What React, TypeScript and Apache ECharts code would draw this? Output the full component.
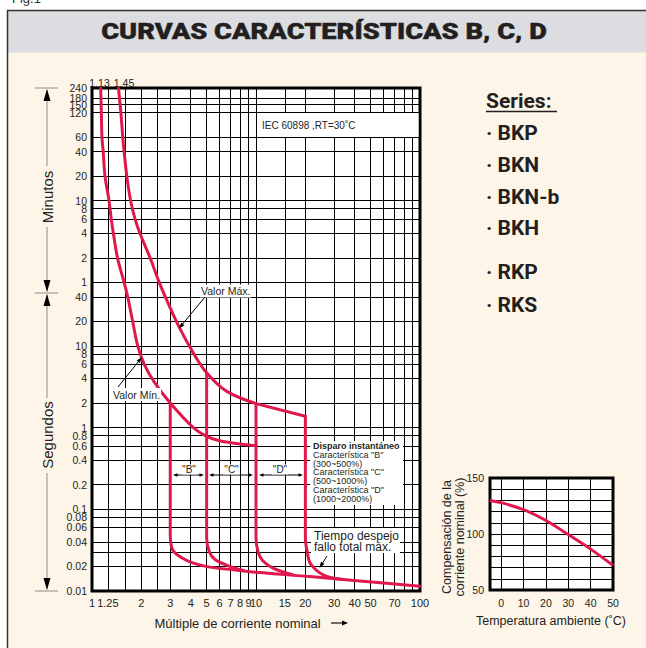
import React, { useEffect, useRef } from 'react';
import * as echarts from 'echarts';

// ---------- data ----------
const X_GRID = [1.25, 1.6, 2, 2.5, 3, 4, 5, 6, 7, 8, 9, 10, 15, 20, 30, 40, 50, 60, 70, 80, 90];
const X_LABELS = [1, 1.25, 2, 3, 4, 5, 6, 7, 8, 9, 10, 15, 20, 30, 40, 50, 70, 100];
const MINUTE_TICKS = [240, 180, 150, 120, 60, 40, 20, 10, 8, 6, 4, 2, 1];
const SECOND_TICKS = [40, 20, 10, 8, 6, 4, 2, 1, 0.8, 0.6, 0.4, 0.2, 0.1, 0.08, 0.06, 0.04, 0.02, 0.01];
const EXTRA_SECOND_GRID = [0.03];
// minute label drawn on a companion axis (too close to the 240 edge label)
const CROWDED_MINUTE_LABELS = [180];

// curves: [multiple of nominal current, time in seconds]
const MIN_CURVE: [number, number][] = [
  [1.13, 14400], [1.14, 7200], [1.15, 3600], [1.17, 2400], [1.2, 1200], [1.27, 600], [1.31, 360],
  [1.35, 240], [1.43, 120], [1.57, 60], [1.65, 40], [1.77, 20], [1.9, 10], [2.08, 6], [2.4, 3.6],
  [3, 2.0], [4.15, 1.0], [5, 0.78], [6, 0.69], [8, 0.63], [10, 0.6],
];
const MAX_CURVE: [number, number][] = [
  [1.45, 14400], [1.5, 7200], [1.54, 3600], [1.57, 2400], [1.63, 1200], [1.72, 600], [1.83, 360],
  [1.96, 240], [2.26, 120], [2.57, 60], [2.8, 40], [3.4, 17], [4.15, 8.2], [5, 4.7], [6.6, 2.8], [10, 1.97],
];
const MAX_TAIL: [number, number][] = [[10, 1.97], [20, 1.38]];
const B_BRANCH: [number, number][] = [
  [3, 2.0], [3, 0.3], [3, 0.1], [3, 0.05], [3.1, 0.032], [3.55, 0.0253], [4.15, 0.0219],
  [5.25, 0.0196], [10.6, 0.0168], [21.3, 0.015], [43, 0.0133], [100, 0.0114],
];
const C_BRANCH: [number, number][] = [
  [5, 4.7], [5, 0.3], [5, 0.1], [5, 0.045], [5.2, 0.03], [5.6, 0.0245], [6.6, 0.0208], [8.4, 0.0178],
];
const D_BRANCH: [number, number][] = [
  [10, 1.97], [10, 0.3], [10, 0.1], [10, 0.045], [10.3, 0.03], [11, 0.0235], [12.7, 0.0191], [16.9, 0.0157],
];
const E_BRANCH: [number, number][] = [
  [20, 1.38], [20, 0.3], [20, 0.1], [20, 0.045], [20.6, 0.029], [21.5, 0.0215], [25.7, 0.0158], [34, 0.0138],
];

const TEMP_X = [-5, 0, 10, 20, 30, 40, 50];
const COMP_Y = [130, 128, 121.7, 112, 99.5, 86.5, 72];
const TEMP_LABELS = [0, 10, 20, 30, 40, 50];
const COMP_LABELS = [50, 100, 150];

const SERIES_NAMES = ['BKP', 'BKN', 'BKN-b', 'BKH', 'RKP', 'RKS'];

// ---------- style ----------
const RED = '#e0194c';
const INK = '#231f20';
const SANS = "'Liberation Sans', Arial, Helvetica, sans-serif";
const CREAM = '#fdf5e8';

function arrowHead(tx: number, ty: number, fx: number, fy: number, len: number, half: number, z = 20) {
  const dx = tx - fx, dy = ty - fy;
  const d = Math.hypot(dx, dy);
  const ux = dx / d, uy = dy / d;
  const bx = tx - ux * len, by = ty - uy * len;
  return {
    type: 'polygon', z, silent: true,
    shape: { points: [[tx, ty], [bx - uy * half, by + ux * half], [bx + uy * half, by - ux * half]] },
    style: { fill: '#000' },
  };
}
function seg(x1: number, y1: number, x2: number, y2: number, stroke = '#000', lw = 1, z = 20) {
  return { type: 'line', z, silent: true, shape: { x1, y1, x2, y2 }, style: { stroke, lineWidth: lw } };
}
function txt(text: string, x: number, y: number, font: string, opts: any = {}, z = 20) {
  return {
    type: 'text', z, silent: true, x, y, rotation: opts.rotation || 0, scaleX: opts.scaleX || 1,
    style: {
      text, font, fill: opts.fill || INK,
      align: opts.align || 'left', verticalAlign: opts.verticalAlign || 'middle',
      lineHeight: opts.lineHeight, backgroundColor: opts.bg, padding: opts.padding,
      stroke: opts.stroke, lineWidth: opts.lineWidth,
    },
  };
}
function box(x: number, y: number, w: number, h: number, z = 15) {
  return { type: 'rect', z, silent: true, shape: { x, y, width: w, height: h }, style: { fill: '#fff' } };
}

function lineSeries(data: [number, number][], smooth: number | boolean) {
  return {
    type: 'line', data, smooth, symbol: 'none', xAxisIndex: 0, yAxisIndex: 0, z: 5,
    lineStyle: { color: RED, width: 3, cap: 'round', join: 'round' }, silent: true,
  };
}

export default function App() {
  const ref = useRef<HTMLDivElement>(null);
  useEffect(() => {
    if (!ref.current) return;
    const chart = echarts.init(ref.current, undefined, { renderer: 'svg' });
    const mainMinuteLabels = MINUTE_TICKS.filter((m) => !CROWDED_MINUTE_LABELS.includes(m));
    const yLabelValues = [...mainMinuteLabels.map((m) => m * 60), ...SECOND_TICKS];
    const yGridValues = [...MINUTE_TICKS.map((m) => m * 60), ...SECOND_TICKS, ...EXTRA_SECOND_GRID];
    const yFmt = (v: number) => (v >= 59.99 ? String(Math.round(v / 60)) : String(+Number(v).toPrecision(4)));

    const graphics: any[] = [];
    // page frame
    graphics.push({ type: 'rect', z: 1, silent: true, shape: { x: 0, y: 0, width: 646, height: 10 }, style: { fill: '#fff' } });
    graphics.push({ type: 'rect', z: 1, silent: true, shape: { x: 0, y: 0, width: 7, height: 648 }, style: { fill: '#fff' } });
    graphics.push({ type: 'rect', z: 1, silent: true, shape: { x: 7.5, y: 10.5, width: 640, height: 42 }, style: { fill: '#dcdde0' } });
    graphics.push({ type: 'polyline', z: 2, silent: true, shape: { points: [[7.5, 648], [7.5, 10.5], [646, 10.5]] }, style: { stroke: '#333', lineWidth: 1.5, fill: null } });
    graphics.push(txt('Fig.1', 12, 5, `13px ${SANS}`, { verticalAlign: 'bottom', fill: '#333' }));
    graphics.push(txt('CURVAS CARACTERÍSTICAS B, C, D', 324, 31.5, `900 22px Roboto, ${SANS}`, { align: 'center', scaleX: 1.24, stroke: INK, lineWidth: 0.4 }));

    // top labels of the curves
    graphics.push(txt('1.13', 99.5, 82.5, `10.5px ${SANS}`, { align: 'center' }));
    graphics.push(txt('1.45', 124, 82.5, `10.5px ${SANS}`, { align: 'center' }));

    // Minutos / Segundos brackets
    const G = '#8c8c8c';
    graphics.push(seg(35, 88, 58, 88, G));
    graphics.push(seg(35, 293, 58, 293, G));
    graphics.push(seg(35, 591, 58, 591, G));
    graphics.push(seg(47, 90, 47, 166, G));
    graphics.push(seg(47, 227, 47, 291, G));
    graphics.push(seg(47, 295, 47, 398, G));
    graphics.push(seg(47, 473, 47, 589, G));
    graphics.push(arrowHead(47, 89, 47, 120, 12, 3.5));
    graphics.push(arrowHead(47, 292, 47, 250, 12, 3.5));
    graphics.push(arrowHead(47, 294, 47, 330, 12, 3.5));
    graphics.push(arrowHead(47, 590, 47, 550, 12, 3.5));
    graphics.push(txt('Minutos', 47, 197, `15px ${SANS}`, { align: 'center', rotation: Math.PI / 2 }));
    graphics.push(txt('Segundos', 47, 435, `15px ${SANS}`, { align: 'center', rotation: Math.PI / 2 }));

    // IEC box
    graphics.push(box(257, 113, 161.5, 24));
    graphics.push(txt('IEC 60898 ,RT=30˚C', 262, 125.5, `10px ${SANS}`));

    // Valor Máx / Mín
    graphics.push(txt('Valor Máx.', 200, 291, `10.5px ${SANS}`, { bg: '#fff', padding: [1, 1] }));
    graphics.push(seg(205, 297, 180.5, 326.5));
    graphics.push(arrowHead(179, 328.5, 205, 297, 6, 2));
    graphics.push(txt('Valor Mín.', 112, 394.5, `10.5px ${SANS}`, { bg: '#fff', padding: [1, 1] }));
    graphics.push(seg(118, 387, 140.5, 359));
    graphics.push(arrowHead(142, 357, 118, 387, 6, 2));

    // B C D ranges
    const ranges: [string, number, number, number][] = [['"B"', 173, 204, 189], ['"C"', 209, 253, 231.5], ['"D"', 259, 303, 280]];
    ranges.forEach(([label, a, b, c]) => {
      graphics.push(seg(a + 2, 475, b - 2, 475));
      graphics.push(arrowHead(a, 475, b, 475, 4.5, 1.8));
      graphics.push(arrowHead(b, 475, a, 475, 4.5, 1.8));
      graphics.push(txt(label, c, 469.5, `10px ${SANS}`, { align: 'center', bg: '#fff', padding: [0, 1] }));
    });

    // Disparo box
    graphics.push(box(310, 441, 93, 64));
    const disparo = ['Disparo instantáneo', 'Característica "B"', '(300~500%)', 'Característica "C"', '(500~1000%)', 'Característica "D"', '(1000~2000%)'];
    disparo.forEach((t, i) => {
      graphics.push(txt(t, 313, 445.8 + i * 8.85, `${i === 0 ? 'bold ' : ''}9px ${SANS}`));
    });

    // Tiempo despejo box
    graphics.push(box(311, 528, 89, 25));
    graphics.push(txt('Tiempo despejo', 314, 536, `12px ${SANS}`));
    graphics.push(txt('fallo total máx.', 314, 547, `12px ${SANS}`));
    graphics.push(seg(327, 556, 320.5, 566.3));
    graphics.push(arrowHead(319.5, 568, 327, 556, 6, 2));

    // Series list
    graphics.push(txt('Series:', 486, 100.5, `bold 21px Roboto, ${SANS}`));
    graphics.push(seg(486, 111.5, 557, 111.5, INK, 1.5));
    const rowsY = [133, 165, 196.5, 228, 271.5, 305];
    SERIES_NAMES.forEach((n, i) => {
      graphics.push(txt('· ' + n, 486, rowsY[i], `bold 21px Roboto, ${SANS}`));
    });

    // axis names
    graphics.push(txt('Múltiple de corriente nominal', 154.5, 623, `13px ${SANS}`));
    graphics.push(seg(331, 623, 343, 623, INK, 1.3));
    graphics.push(arrowHead(348, 623, 331, 623, 6, 2.5));
    graphics.push(txt('Temperatura ambiente (˚C)', 551, 621, `12.5px ${SANS}`, { align: 'center' }));
    graphics.push(txt('Compensación de la\ncorriente nominal (%)', 453, 537, `12.5px ${SANS}`, { align: 'center', rotation: Math.PI / 2, lineHeight: 13 }));

    const tickLabel = { fontFamily: SANS, color: INK, showMinLabel: true, showMaxLabel: true, hideOverlap: false };

    chart.setOption({
      animation: false,
      backgroundColor: CREAM,
      grid: [
        { left: 92, top: 88, width: 328, height: 503, show: true, backgroundColor: '#fff', borderColor: '#000', borderWidth: 3, outerBoundsMode: 'none', containLabel: false },
        { left: 490, top: 478, width: 123, height: 112, show: true, backgroundColor: '#fff', borderColor: '#000', borderWidth: 3, outerBoundsMode: 'none', containLabel: false },
      ],
      xAxis: [
        {
          type: 'log', logBase: 10, min: 1, max: 100, gridIndex: 0,
          axisLine: { show: false },
          axisTick: { show: false, customValues: X_GRID },
          splitLine: { show: true, lineStyle: { color: '#000', width: 1 } },
          axisLabel: { customValues: X_LABELS, margin: 6, fontSize: 11, ...tickLabel, formatter: (v: number) => String(+Number(v).toPrecision(4)) },
        },
        {
          type: 'value', min: -5, max: 50, gridIndex: 1,
          axisLine: { show: false },
          axisTick: { show: false, customValues: TEMP_LABELS },
          splitLine: { show: true, lineStyle: { color: '#000', width: 1 } },
          axisLabel: { customValues: TEMP_LABELS, margin: 7, fontSize: 10.5, ...tickLabel },
        },
      ],
      yAxis: [
        {
          type: 'log', logBase: 10, min: 0.01, max: 14400.5, gridIndex: 0,
          axisLine: { show: false },
          axisTick: { show: false, customValues: yGridValues },
          splitLine: { show: true, lineStyle: { color: '#000', width: 1 } },
          axisLabel: { customValues: yLabelValues, margin: 5, fontSize: 10.5, ...tickLabel, formatter: yFmt },
        },
        {
          type: 'value', min: 50, max: 150, interval: 10, gridIndex: 1,
          axisLine: { show: false },
          axisTick: { show: false },
          splitLine: { show: true, lineStyle: { color: '#000', width: 1 } },
          axisLabel: { customValues: COMP_LABELS, margin: 6, fontSize: 10.5, ...tickLabel },
        },
        {
          type: 'log', logBase: 10, min: 0.01, max: 14400.5, gridIndex: 0, position: 'left', offset: 0,
          axisLine: { show: false },
          axisTick: { show: false },
          splitLine: { show: false },
          axisLabel: { customValues: CROWDED_MINUTE_LABELS.map((m) => m * 60), margin: 5, fontSize: 10.5, ...tickLabel, formatter: yFmt },
        },
      ],
      series: [
        lineSeries(MIN_CURVE, 0.35),
        lineSeries(MAX_CURVE, 0.35),
        lineSeries(MAX_TAIL, false),
        lineSeries(B_BRANCH, 0.35),
        lineSeries(C_BRANCH, 0.35),
        lineSeries(D_BRANCH, 0.35),
        lineSeries(E_BRANCH, 0.35),
        {
          type: 'line', xAxisIndex: 1, yAxisIndex: 1, symbol: 'none', smooth: 0.3, silent: true,
          data: TEMP_X.map((t, i) => [t, COMP_Y[i]]),
          lineStyle: { color: RED, width: 3 },
        },
      ],
      graphic: { elements: graphics },
    });
    return () => chart.dispose();
  }, []);
  return <div ref={ref} style={{ position: 'fixed', left: 0, top: 0, width: 646, height: 648 }} />;
}
